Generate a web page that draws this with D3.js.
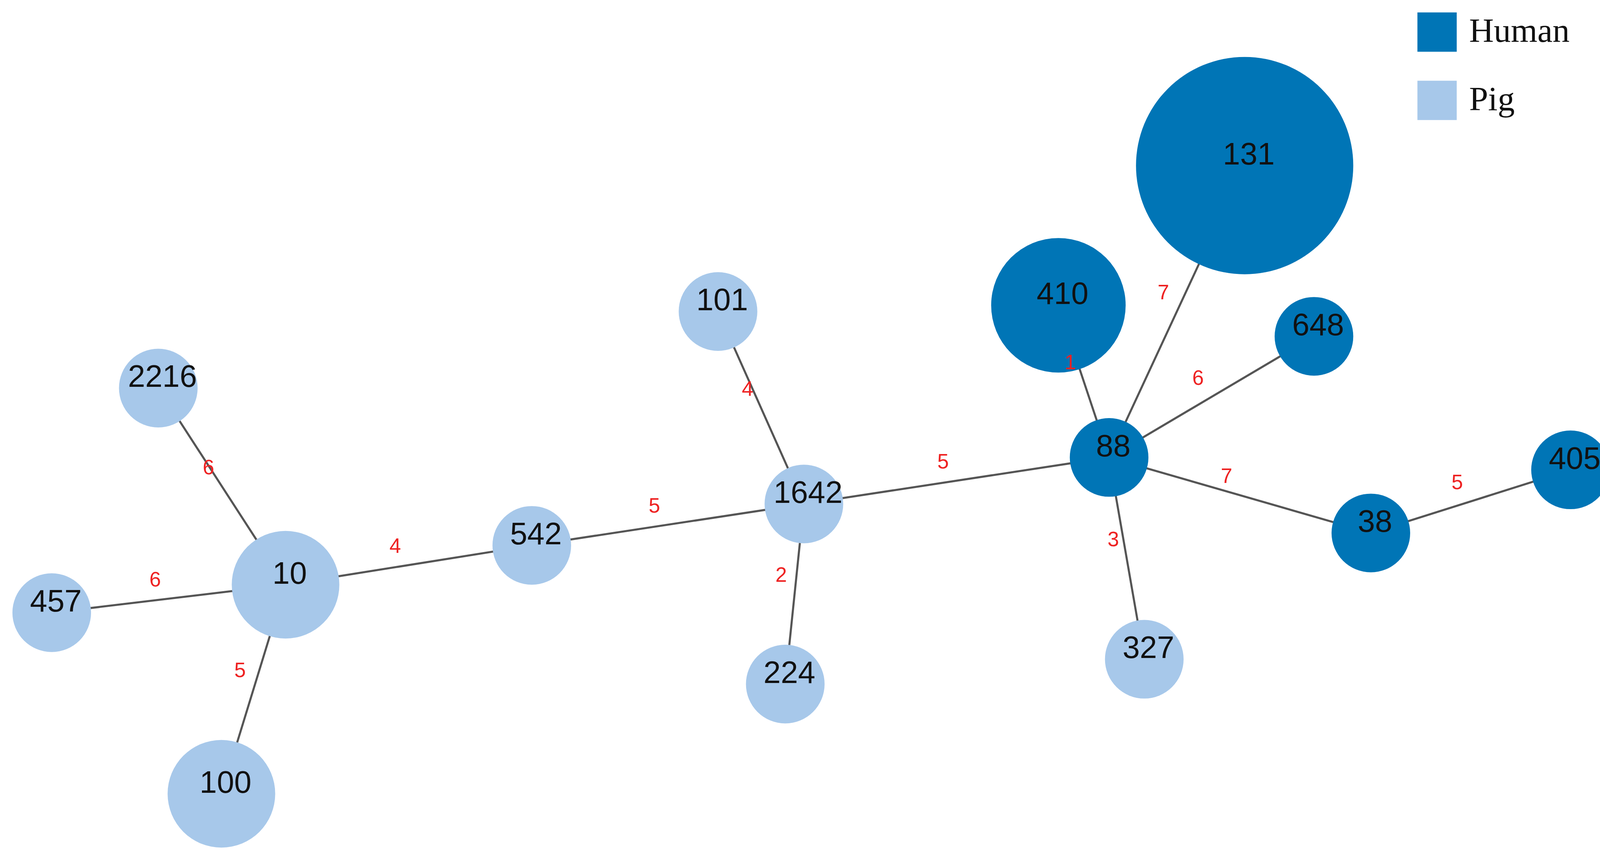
<!DOCTYPE html>
<html>
<head>
<meta charset="utf-8">
<script src="https://cdn.jsdelivr.net/npm/d3@7"></script>
<style>body{margin:0;background:#fff;}</style>
</head>
<body>
<div id="container"></div>
<script>
let w = 4153;
let h = 2201;

// nodes (reference coords, 1568 wide)
let nodeIds   = ["131","410","648","88","405","38","327","1642","101","224","542","10","2216","457","100"];
let nodeX     = [1203,1023,1270,1072,1518,1325,1106,777,694,759,514,276,153,50,214];
let nodeY     = [160,295,325,442,454,515,637,487,301,661,527,565,375,592,767];
let nodeR     = [105,65,38,38,38,38,38,38,38,38,38,52,38,38,52];
let nodeHost  = ["Human","Human","Human","Human","Human","Human","Pig","Pig","Pig","Pig","Pig","Pig","Pig","Pig","Pig"];

let edgeSource = ["88","88","88","88","88","38","1642","1642","1642","542","10","10","10"];
let edgeTarget = ["131","410","648","38","327","405","88","101","224","1642","542","2216","457"];
let edgeWeight = [7,1,6,7,3,5,5,4,2,5,4,6,6];
edgeSource.push("10"); edgeTarget.push("100"); edgeWeight.push(5);

let hosts = ["Human","Pig"];
let colors = ["#0075b6","#a7c8ea"];

let x = d3.scaleLinear().domain([0,1568]).range([0,w]);
let y = d3.scaleLinear().domain([0,831]).range([0,h]);
let k = w/1568;
let color = d3.scaleOrdinal().domain(hosts).range(colors);

let viz = d3.select("#container").append("svg")
    .attr("width", w).attr("height", h)
    .style("background-color", "white");

let nodes = nodeIds.map(function(d,i){
  return {id:d, x:nodeX[i], y:nodeY[i], r:nodeR[i], host:nodeHost[i]};
});
let byId = {};
nodes.forEach(function(n){ byId[n.id] = n; });
let edges = edgeSource.map(function(s,i){
  return {s:byId[s], t:byId[edgeTarget[i]], wgt:edgeWeight[i]};
});

// edges
viz.append("g").selectAll("line").data(edges).enter().append("line")
  .attr("x1", d => x(d.s.x)).attr("y1", d => y(d.s.y))
  .attr("x2", d => x(d.t.x)).attr("y2", d => y(d.t.y))
  .attr("stroke", "#555").attr("stroke-width", 2*k);

// nodes
viz.append("g").selectAll("circle").data(nodes).enter().append("circle")
  .attr("cx", d => x(d.x)).attr("cy", d => y(d.y))
  .attr("r", d => d.r*k)
  .attr("fill", d => color(d.host));

// edge labels
viz.append("g").selectAll("text").data(edges).enter().append("text")
  .attr("x", d => x((d.s.x+d.t.x)/2 - 13))
  .attr("y", d => y((d.s.y+d.t.y)/2 - 17))
  .attr("text-anchor","middle").attr("dominant-baseline","middle")
  .attr("fill","#ee2222")
  .style("font-family","Liberation Sans, Arial, sans-serif")
  .style("font-size", (20*k)+"px")
  .text(d => d.wgt);

// node labels
viz.append("g").selectAll("text").data(nodes).enter().append("text")
  .attr("x", d => x(d.x + 4)).attr("y", d => y(d.y - 9))
  .attr("text-anchor","middle").attr("dominant-baseline","middle")
  .attr("fill","#111")
  .style("font-family","Liberation Sans, Arial, sans-serif")
  .style("font-size", (30*k)+"px")
  .text(d => d.id);

// legend
let legend = viz.append("g").selectAll("g").data(hosts).enter().append("g");
legend.append("rect")
  .attr("x", x(1370)).attr("y", (d,i) => y(12 + i*66))
  .attr("width", 38*k).attr("height", 38*k)
  .attr("fill", d => color(d));
legend.append("text")
  .attr("x", x(1420)).attr("y", (d,i) => y(33 + i*66))
  .attr("dominant-baseline","middle")
  .style("font-family","Liberation Serif, Times New Roman, serif")
  .style("font-size", (33*k)+"px")
  .attr("fill","#111")
  .text(d => d);
</script>
</body>
</html>
